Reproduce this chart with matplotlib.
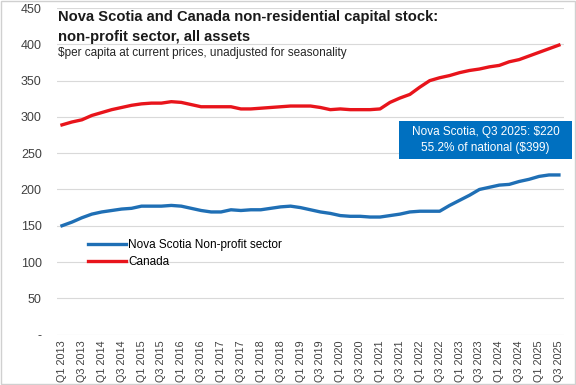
import numpy as np
import matplotlib
matplotlib.use("Agg")
import matplotlib.pyplot as plt

# quarterly data, Q1 2013 .. Q3 2025 ($ per capita)
quarters = [f"Q{q} {y}" for y in range(2013, 2026) for q in range(1, 5)][:51]

nova_scotia = [150, 155, 161, 166, 169, 171, 173, 174, 177, 177,
               177, 178, 177, 174, 171, 169, 169, 172, 171, 172,
               172, 174, 176, 177, 175, 172, 169, 167, 164, 163,
               163, 162, 162, 164, 166, 169, 170, 170, 170, 178,
               185, 192, 200, 203, 206, 207, 211, 214, 218, 220,
               220]
canada = [289, 293, 296, 302, 306, 310, 313, 316, 318, 319,
          319, 321, 320, 317, 314, 314, 314, 314, 311, 311,
          312, 313, 314, 315, 315, 315, 313, 310, 311, 310,
          310, 310, 311, 320, 326, 331, 341, 350, 354, 357,
          361, 364, 366, 369, 371, 376, 379, 384, 389, 394,
          399]

yticks = [0, 50, 100, 150, 200, 250, 300, 350, 400, 450]
ytick_labels = ["-"] + [str(v) for v in yticks[1:]]

plt.rcParams['font.family'] = ['Liberation Sans', 'DejaVu Sans']

fig = plt.figure(figsize=(5.76, 3.85), dpi=100)
ax = fig.add_axes([0.099, 0.131, 0.880, 0.848])

x = np.arange(len(quarters))
ax.plot(x, nova_scotia, color="#1f6fb5", lw=2.4, label="Nova Scotia Non-profit sector")
ax.plot(x, canada, color="#e8141b", lw=2.4, label="Canada")

ax.set_xlim(-0.5, len(quarters) - 0.5)
ax.set_ylim(0, 450)
ax.set_yticks(yticks)
ax.set_yticklabels(ytick_labels, fontsize=9, color="#404040")
ax.set_xticks(x[::2])
ax.set_xticklabels(quarters[::2], rotation=90, fontsize=7.8, color="#404040")
ax.tick_params(length=0, pad=4)
ax.tick_params(axis="y", pad=11)
ax.grid(axis="y", color="#d9d9d9", lw=0.8)
ax.set_axisbelow(True)
for s in ax.spines.values():
    s.set_visible(False)

# titles
fig.text(0.101, 0.955, "Nova Scotia and Canada non-residential capital stock:",
         fontsize=10.6, fontweight="bold", va="center", color="#1a1a1a")
fig.text(0.101, 0.903, "non-profit sector, all assets",
         fontsize=10.6, fontweight="bold", va="center", color="#1a1a1a")
fig.text(0.101, 0.862, "$per capita at current prices, unadjusted for seasonality",
         fontsize=8.5, va="center", color="#262626")

leg = ax.legend(loc="upper left", bbox_to_anchor=(0.04, 0.325), frameon=False,
                fontsize=8.5, handlelength=3.2, handletextpad=0.2, labelspacing=0.45)

# callout box
fig.patches.append(plt.Rectangle((399 / 576, 1 - 159 / 385), 173 / 576, 38 / 385,
                                 transform=fig.transFigure, fc="#0070c0", ec="none"))
fig.text(485.5 / 576, 1 - 140 / 385, "Nova Scotia, Q3 2025: $220\n55.2% of national ($399)",
         ha="center", va="center", color="white", fontsize=8.5, linespacing=1.45)

# chart border
fig.patches.append(plt.Rectangle((0.002, 0.002), 0.996, 0.996, transform=fig.transFigure,
                                 fill=False, ec="#d0d0d0", lw=1))

fig.savefig("out.png", dpi=100)
